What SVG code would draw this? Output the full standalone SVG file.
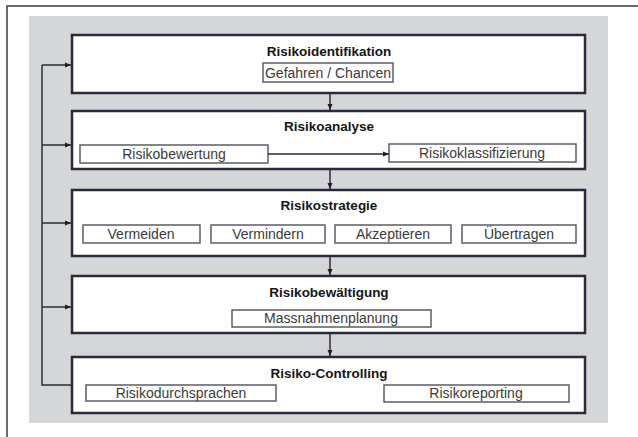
<svg xmlns="http://www.w3.org/2000/svg" width="638" height="437" viewBox="0 0 638 437">
  <defs>
    <marker id="arrow" viewBox="0 0 6 6" refX="6" refY="3" markerWidth="6" markerHeight="6" markerUnits="userSpaceOnUse" orient="auto">
      <path d="M0,0.5 L6,3 L0,5.5 Z" fill="#1f1d2c"/>
    </marker>
    <style>
      .stage { fill: #ffffff; stroke: #2b2a3c; stroke-width: 2.5; }
      .item { fill: #ffffff; stroke: #5d5c68; stroke-width: 1.5; }
      .title { font-family: "Liberation Sans", Arial, sans-serif; font-size: 13.5px; font-weight: bold; fill: #151515; text-anchor: middle; }
      .label { font-family: "Liberation Sans", Arial, sans-serif; font-size: 14px; fill: #3a3a3a; text-anchor: middle; }
      .link { fill: none; stroke: #2b2a3c; stroke-width: 1.5; }
    </style>
  </defs>

  <!-- page frame and backdrop -->
  <rect x="0" y="0" width="638" height="437" fill="#ffffff"/>
  <path d="M7,437 V6 H638" fill="none" stroke="#3a3a3a" stroke-width="1.5"/>
  <rect x="29" y="16" width="579" height="407" fill="#d5d6d8"/>

  <g id="risikoidentifikation">
    <rect class="stage" x="72" y="35" width="513" height="58"/>
    <text class="title" x="329" y="56">Risikoidentifikation</text>
    <rect class="item" x="263" y="63" width="130" height="19"/>
    <text class="label" x="328" y="78">Gefahren / Chancen</text>
  </g>

  <g id="risikoanalyse">
    <rect class="stage" x="72" y="111" width="513" height="58"/>
    <text class="title" x="329" y="131">Risikoanalyse</text>
    <rect class="item" x="80" y="145" width="188" height="18"/>
    <text class="label" x="174" y="159">Risikobewertung</text>
    <rect class="item" x="389" y="144" width="187" height="18"/>
    <text class="label" x="482" y="158">Risikoklassifizierung</text>
  </g>

  <g id="risikostrategie">
    <rect class="stage" x="72" y="190" width="513" height="66"/>
    <text class="title" x="329" y="210">Risikostrategie</text>
    <rect class="item" x="83" y="225" width="117" height="18"/>
    <text class="label" x="141" y="239">Vermeiden</text>
    <rect class="item" x="211" y="225" width="114" height="18"/>
    <text class="label" x="268" y="239">Vermindern</text>
    <rect class="item" x="335" y="225" width="116" height="18"/>
    <text class="label" x="393" y="239">Akzeptieren</text>
    <rect class="item" x="462" y="225" width="114" height="18"/>
    <text class="label" x="519" y="239">Übertragen</text>
  </g>

  <g id="risikobewaeltigung">
    <rect class="stage" x="72" y="276" width="513" height="57"/>
    <text class="title" x="329" y="297">Risikobewältigung</text>
    <rect class="item" x="232" y="310" width="199" height="17"/>
    <text class="label" x="331" y="323">Massnahmenplanung</text>
  </g>

  <g id="risiko-controlling">
    <rect class="stage" x="72" y="357" width="513" height="56"/>
    <text class="title" x="329" y="378">Risiko-Controlling</text>
    <rect class="item" x="86" y="385" width="190" height="16"/>
    <text class="label" x="181" y="398">Risikodurchsprachen</text>
    <rect class="item" x="384" y="385" width="185" height="17"/>
    <text class="label" x="476" y="398">Risikoreporting</text>
  </g>

  <!-- connectors, drawn last so they sit on top of the stage boxes -->
  <g id="connectors">
    <path class="link" d="M330,94 V110" marker-end="url(#arrow)"/>
    <path class="link" d="M330,170 V189" marker-end="url(#arrow)"/>
    <path class="link" d="M330,257 V275" marker-end="url(#arrow)"/>
    <path class="link" d="M330,334 V356" marker-end="url(#arrow)"/>
    <path class="link" d="M268,154 H389" marker-end="url(#arrow)"/>
    <path class="link" d="M71,385 H42 V65"/>
    <path class="link" d="M42,65 H71" marker-end="url(#arrow)"/>
    <path class="link" d="M42,145 H71" marker-end="url(#arrow)"/>
    <path class="link" d="M42,223 H71" marker-end="url(#arrow)"/>
    <path class="link" d="M42,307 H71" marker-end="url(#arrow)"/>
  </g>
</svg>
